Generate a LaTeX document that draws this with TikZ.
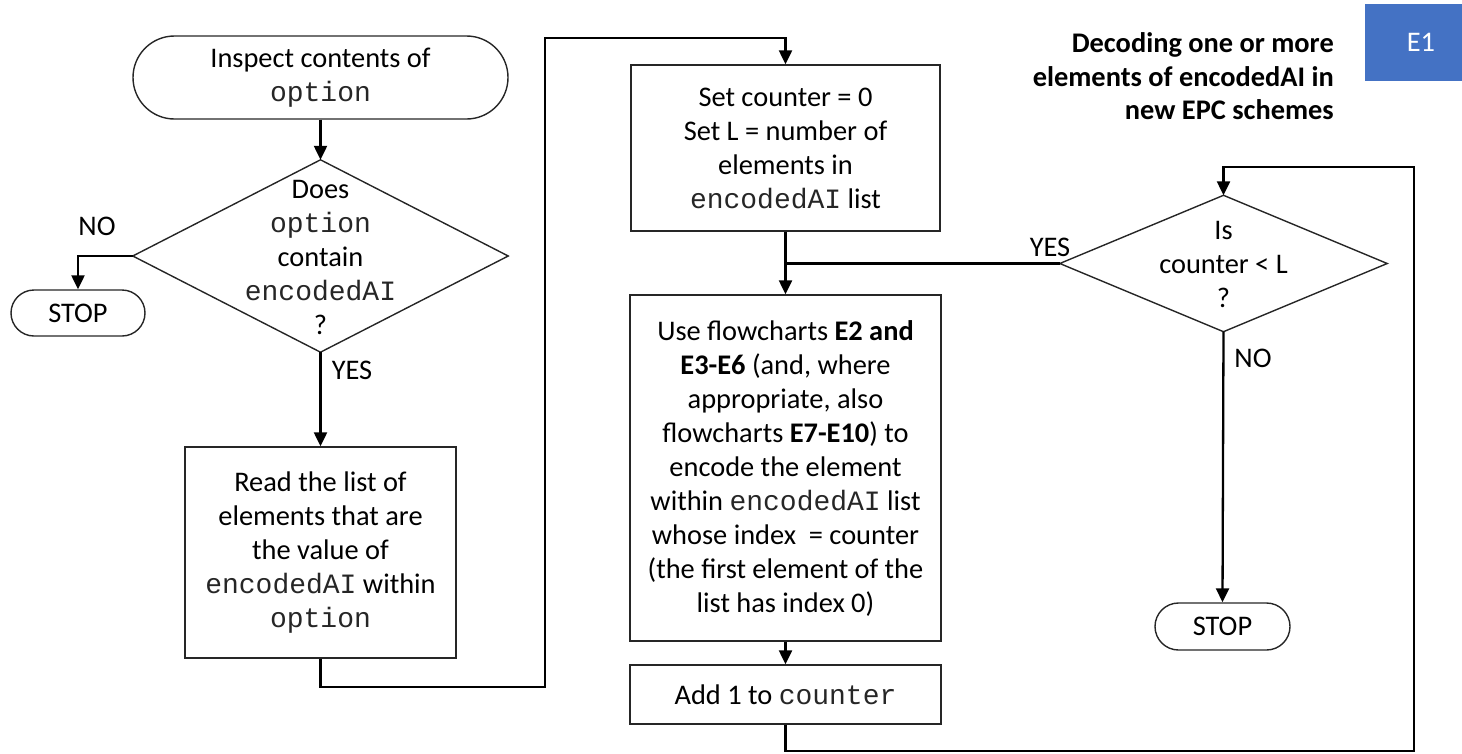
\documentclass[tikz,border=0pt]{standalone}
\usepackage{fontspec}
\setmainfont{Carlito}
\setmonofont{Liberation Mono}
\usetikzlibrary{arrows.meta}
\newcommand\mono[1]{{\fontsize{28}{34}\selectfont\ttfamily\color{black!85}#1}}
\definecolor{tagblue}{HTML}{4472C4}
\begin{document}
\begin{tikzpicture}[x=1pt,y=-1pt,
  every node/.style={font=\fontsize{28.4}{34}\selectfont, inner sep=0pt, align=center},
  box/.style={draw=black!85, line width=1.4pt, rectangle},
  term/.style={draw=black!85, line width=1.4pt, rectangle},
  decision/.style={rectangle},
  conn/.style={line width=2.3pt, black},
  arr/.style={conn, -{Triangle[width=13pt,length=14pt]}},
  lbl/.style={font=\fontsize{28.4}{34}\selectfont}]
\useasboundingbox (0,0) rectangle (1462,753);

% blue tag and heading
\node[fill=tagblue, minimum width=112pt, minimum height=77pt, text=white] (tag) at (1421,42.5) {E1};
\node[anchor=east, align=right, font=\fontsize{28.4}{33.5}\selectfont\bfseries] (title) at (1334,76.5)
  {Decoding one or more\\elements of encodedAI in\\new EPC schemes};

% left column
\node[term, rounded corners=41.5pt, minimum width=375pt, minimum height=83pt] (start) at (320.5,77.5)
  {Inspect contents of\\\mono{option}};
\node[decision, minimum width=375pt, minimum height=192pt] (d1) at (320.5,256) {};
\draw[draw=black!85, line width=1.4pt] (d1.north) -- (d1.east) -- (d1.south) -- (d1.west) -- cycle;
\node at (320.5,257) {Does\\\mono{option}\\contain\\\mono{encodedAI}\\?};
\node[term, rounded corners=23pt, minimum width=134pt, minimum height=46pt] (stop1) at (78,313) {STOP};
\node[lbl] (no1) at (97,226) {NO};
\node[lbl] (yes1) at (352,370) {YES};
\node[box, minimum width=271pt, minimum height=211pt] (read) at (320.5,552.5)
  {Read the list of\\elements that are\\the value of\\\mono{encodedAI} within\\\mono{option}};

% middle column
\node[box, minimum width=309pt, minimum height=166pt] (setc) at (785.5,148)
  {Set counter = 0\\Set L = number of\\elements in\\\mono{encodedAI} list};
\node[box, minimum width=311pt, minimum height=346pt] (use) at (785.5,468)
  {Use flowcharts \textbf{E2 and}\\\textbf{E3-E6} (and, where\\appropriate, also\\flowcharts \textbf{E7-E10}) to\\encode the element\\within \mono{encodedAI} list\\whose index\ \ = counter\\(the first element of the\\list has index 0)};
\node[box, minimum width=311pt, minimum height=59pt] (add) at (785.5,694.5)
  {Add 1 to \mono{counter}};

% right column
\node[decision, minimum width=327pt, minimum height=136pt] (d2) at (1223.5,263.5) {};
\draw[draw=black!85, line width=1.4pt] (d2.north) -- (d2.east) -- (d2.south) -- (d2.west) -- cycle;
\node at (1223.5,264) {Is\\counter < L\\?};
\node[lbl] (yes2) at (1050,247) {YES};
\node[lbl] (no2) at (1253,358) {NO};
\node[term, rounded corners=23.5pt, minimum width=135pt, minimum height=47pt] (stop2) at (1222.5,626.5) {STOP};

% routing points
\coordinate (r1) at (545,687);
\coordinate (r2) at (545,38);
\coordinate (r3) at (1414,751);
\coordinate (r4) at (1414,167);

% connectors
\draw[arr] (start.south) -- (d1.north);
\draw[arr] (d1.west) -| (stop1.north);
\draw[arr] (d1.south) -- (read.north);
\draw[arr] (read.south) |- (r1) -- (r2) -| (setc.north);
\draw[arr] (setc.south) -- (use.north);
\draw[conn] (d2.west) -- (setc.south |- d2.west);
\draw[arr] (use.south) -- (add.north);
\draw[arr] (add.south) |- (r3) -- (r4) -| (d2.north);
\draw[arr] (d2.south) -- (stop2.north);
\end{tikzpicture}
\end{document}
